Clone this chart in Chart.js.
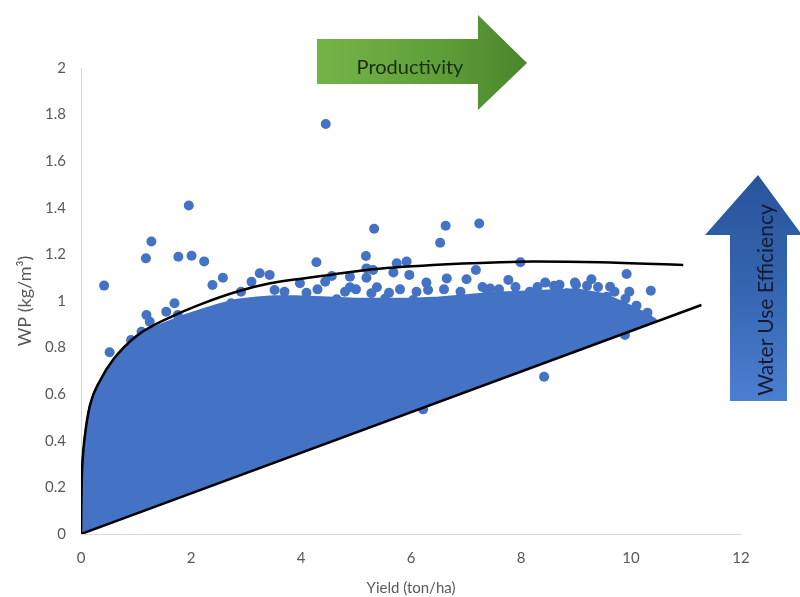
<!DOCTYPE html>
<html>
<head>
<meta charset="utf-8">
<script src="https://cdn.jsdelivr.net/npm/chart.js@4.4.1/dist/chart.umd.min.js"></script>
<style>
html,body{margin:0;padding:0;background:#fff;}
#wrap{position:relative;width:800px;height:597px;overflow:hidden;}
#c{position:absolute;left:0;top:0;}
.arrow{position:absolute;}
#prod{left:317px;top:15px;width:210px;height:96px;
  clip-path:polygon(0px 24px,161px 24px,161px 0px,210px 48px,161px 95px,161px 69px,0px 69px);
  background:linear-gradient(to right,#74b446 0%,#60a03a 55%,#4a862b 100%);}
#wue{left:705px;top:175px;width:97px;height:226px;
  clip-path:polygon(53px 0px,97px 60px,82px 60px,82px 226px,25px 226px,25px 60px,0px 60px);
  background:linear-gradient(to bottom,#28549a 0%,#3565b0 50%,#4b7fd0 100%);}
.lbl{position:absolute;font-family:Lato,"Open Sans",sans-serif;white-space:nowrap;}
#prodT{left:410px;top:66px;transform:translate(-50%,-50%);font-size:20px;color:#1c2b12;}
#wueT{left:764px;top:300px;transform:translate(-50%,-50%) rotate(-90deg);font-size:21px;color:#151a33;}
</style>
</head>
<body>
<div id="wrap">
  <canvas id="c" width="800" height="597"></canvas>
  <div class="arrow" id="prod"></div>
  <div class="arrow" id="wue"></div>
  <div class="lbl" id="prodT">Productivity</div>
  <div class="lbl" id="wueT">Water Use Efficiency</div>
</div>
<script>
// ---- tick labels ----
const xTickLabels = ['0','2','4','6','8','10','12'];
const yTickLabels = ['0','0.2','0.4','0.6','0.8','1','1.2','1.4','1.6','1.8','2'];

// ---- dense point cloud outline ----
const blobUpperX = [0, 0.01, 0.03, 0.07, 0.11, 0.16, 0.25, 0.35, 0.47, 0.59, 0.8, 1.01, 1.3, 1.62, 1.9, 2.22, 2.5, 2.83, 3.2, 3.5, 3.9, 4.5, 5.0, 5.5, 6.0, 6.5, 7.0, 7.5, 8.0, 8.5, 9.0, 9.5, 9.9, 10.2, 10.45];
const blobUpperY = [0, 0.2, 0.32, 0.42, 0.49, 0.55, 0.615, 0.66, 0.71, 0.75, 0.805, 0.85, 0.885, 0.915, 0.94, 0.965, 0.985, 1.005, 1.015, 1.02, 1.02, 1.015, 1.01, 1.01, 1.01, 1.015, 1.025, 1.035, 1.04, 1.045, 1.05, 1.03, 0.99, 0.955, 0.92];
const blobLowerX = [10.45, 9, 7, 5, 3, 1, 0.2, 0];
const blobLowerY = [0.915, 0.79, 0.615, 0.44, 0.265, 0.092, 0.02, 0];

// ---- individual points near the cloud edge and outliers ----
const dotX = [4.45, 1.96, 1.28, 1.18, 1.77, 2.01, 2.24, 0.42, 0.52, 5.33, 6.63, 6.53, 7.24, 7.99, 9.92, 10.36, 8.42, 4.28, 5.18,
  1.19, 1.70, 1.55, 1.25, 0.91, 1.10, 0.85, 2.10, 1.76, 2.37, 2.73, 2.91, 3.10, 3.25, 3.43, 3.52, 2.55, 2.39, 2.58,
  3.98, 4.56, 4.44, 4.89, 4.89, 5.19, 5.31, 5.19, 5.38, 5.28, 5.74, 5.92, 5.68, 5.97, 6.28, 6.31, 6.65, 7.01, 7.18, 7.38, 6.04, 5.53, 4.65,
  7.77, 8.44, 8.98, 9.28, 9.97, 7.44, 8.16, 8.83, 9.62, 9.56, 9.89, 6.22,
  3.7, 4.1, 4.3, 4.8, 5.0, 5.6, 5.8, 6.1, 6.6, 6.9, 7.3, 7.6, 7.9, 8.3, 8.6, 8.7, 9.0, 9.2, 9.4, 9.7, 9.9, 10.1, 10.3];
const dotY = [1.76, 1.41, 1.255, 1.183, 1.19, 1.194, 1.17, 1.066, 0.78, 1.31, 1.323, 1.25, 1.333, 1.166, 1.116, 1.044, 0.675, 1.166, 1.193,
  0.94, 0.99, 0.954, 0.911, 0.833, 0.868, 0.79, 0.933, 0.94, 0.947, 0.99, 1.04, 1.083, 1.119, 1.112, 1.047, 0.969, 1.069, 1.10,
  1.076, 1.107, 1.083, 1.104, 1.059, 1.14, 1.133, 1.10, 1.059, 1.033, 1.162, 1.169, 1.122, 1.112, 1.079, 1.047, 1.097, 1.093, 1.133, 1.047, 1.004, 1.011, 1.007,
  1.09, 1.079, 1.079, 1.093, 1.04, 1.054, 1.04, 1.033, 1.061, 1.018, 0.854, 0.535,
  1.04, 1.035, 1.05, 1.04, 1.05, 1.035, 1.05, 1.04, 1.05, 1.04, 1.06, 1.05, 1.06, 1.06, 1.065, 1.07, 1.07, 1.065, 1.06, 1.04, 1.01, 0.98, 0.95];

// ---- upper envelope curve ----
const upperCurveX = [0, 0.01, 0.03, 0.07, 0.16, 0.35, 0.59, 1.01, 1.62, 2.22, 2.83, 3.44, 4.04, 4.53, 5.19, 6.4, 7.62, 8.22, 9.44, 10.95];
const upperCurveY = [0, 0.2, 0.32, 0.42, 0.55, 0.66, 0.75, 0.85, 0.93, 0.99, 1.04, 1.076, 1.097, 1.112, 1.133, 1.154, 1.166, 1.169, 1.166, 1.154];

// ---- lower envelope line ----
const lowerLineX = [0, 11.28];
const lowerLineY = [0, 0.983];

const zip = (xs, ys) => xs.map((x, i) => ({x: x, y: ys[i]}));
const blobPts = zip(blobUpperX, blobUpperY).concat(zip(blobLowerX, blobLowerY));

const BLUE = '#4472C4';
const FONT = 'Lato, "Open Sans", sans-serif';
const GREY = '#595959';

new Chart(document.getElementById('c'), {
  type: 'scatter',
  data: {
    datasets: [
      {data: zip(upperCurveX, upperCurveY), showLine: true, borderColor: '#000', borderWidth: 2.5,
       pointRadius: 0, cubicInterpolationMode: 'monotone', fill: false, order: 0},
      {data: zip(lowerLineX, lowerLineY), showLine: true, borderColor: '#000', borderWidth: 2.5,
       pointRadius: 0, fill: false, order: 0},
      {data: zip(dotX, dotY), pointRadius: 5, pointBackgroundColor: BLUE, pointBorderWidth: 0,
       backgroundColor: BLUE, borderColor: BLUE, order: 1},
      {data: blobPts, showLine: true, fill: 'shape', backgroundColor: BLUE, borderColor: BLUE,
       borderWidth: 2, pointRadius: 0, tension: 0, order: 2}
    ]
  },
  options: {
    responsive: false,
    animation: false,
    events: [],
    layout: {padding: {left: 0, right: 59, top: 68, bottom: 0}},
    plugins: {legend: {display: false}, tooltip: {enabled: false}},
    scales: {
      x: {
        type: 'linear', min: 0, max: 12,
        afterFit: s => { s.height = 63; },
        grid: {display: false, drawTicks: false},
        border: {display: true, color: '#d9d9d9', width: 1},
        ticks: {stepSize: 2, padding: 15, color: GREY, font: {family: FONT, size: 15},
                callback: (v, i) => xTickLabels[i]},
        title: {display: true, text: 'Yield (ton/ha)', color: GREY, font: {family: FONT, size: 15},
                padding: {top: 0, bottom: 0}}
      },
      y: {
        type: 'linear', min: 0, max: 2,
        afterFit: s => { s.width = 81; },
        grid: {display: false, drawTicks: false},
        border: {display: true, color: '#d9d9d9', width: 1},
        ticks: {stepSize: 0.2, padding: 15, color: GREY, font: {family: FONT, size: 15},
                callback: (v, i) => yTickLabels[i]},
        title: {display: true, text: 'WP (kg/m³)', color: GREY, font: {family: FONT, size: 18},
                padding: {top: 14, bottom: 0}}
      }
    }
  }
});
</script>
</body>
</html>
